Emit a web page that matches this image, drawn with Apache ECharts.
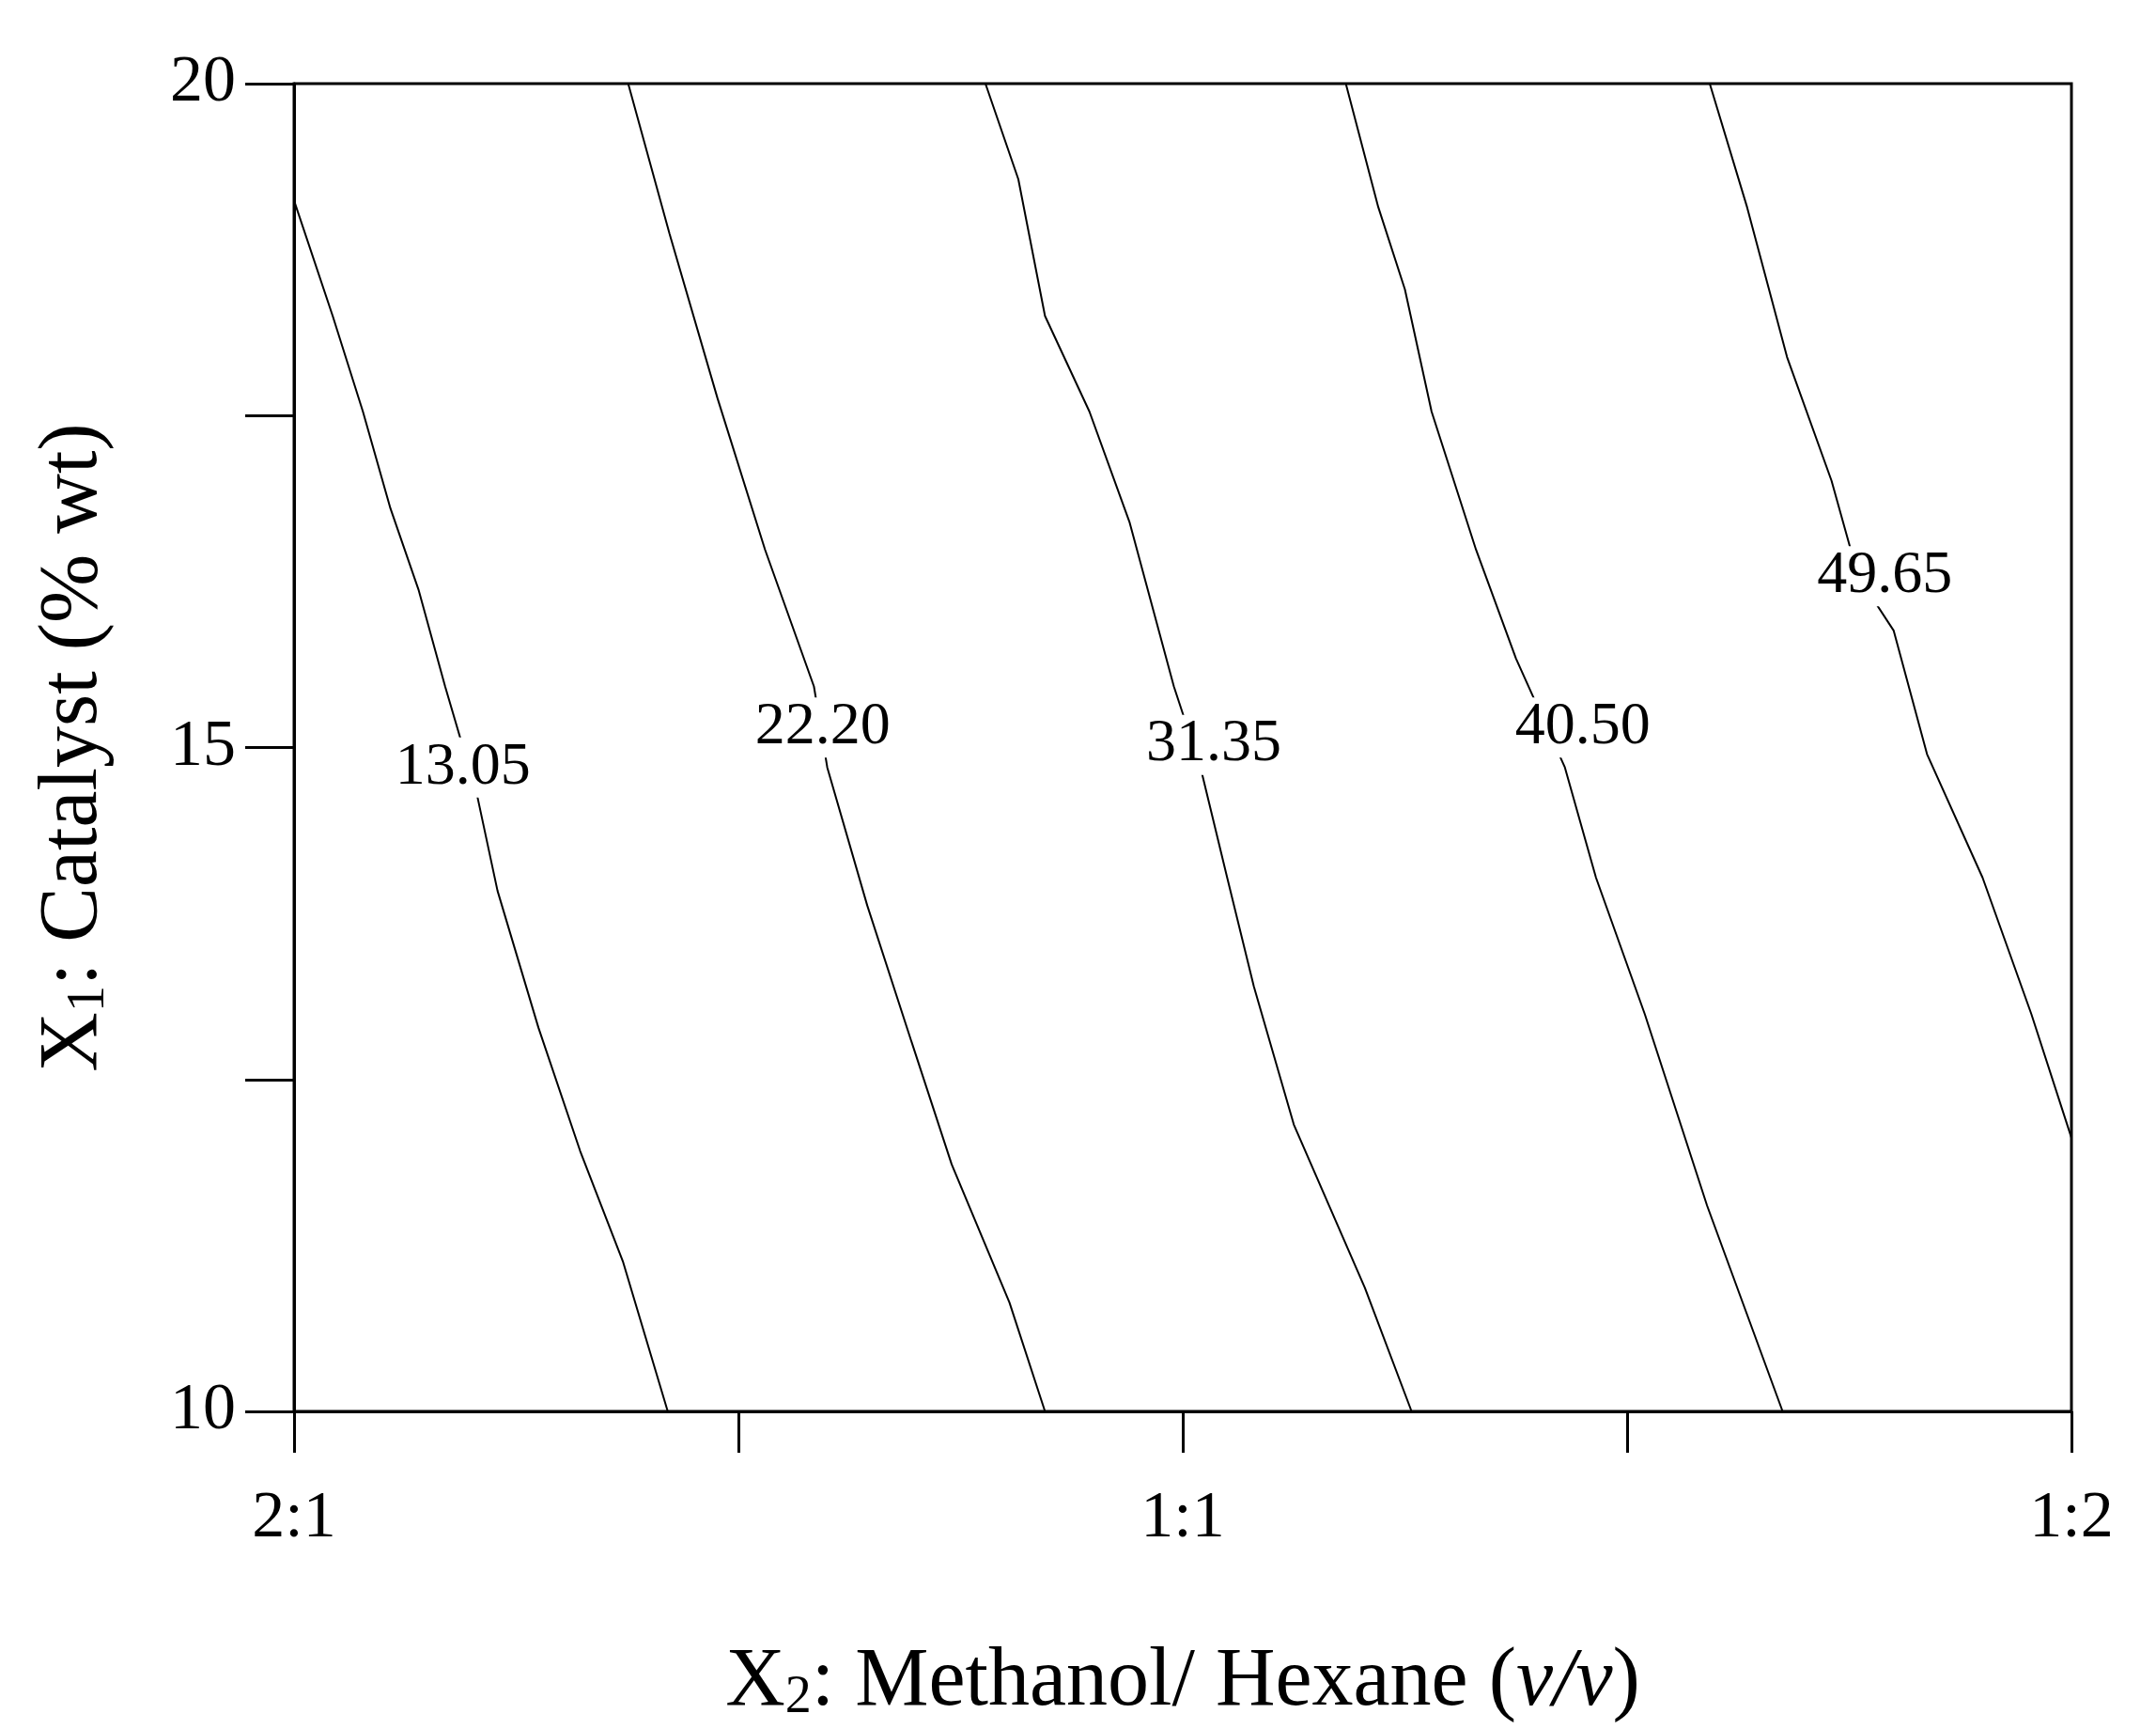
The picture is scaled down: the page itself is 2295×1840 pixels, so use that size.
<!DOCTYPE html>
<html>
<head>
<meta charset="utf-8">
<script src="https://cdn.jsdelivr.net/npm/echarts@6/dist/echarts.min.js"></script>
<style>html,body{margin:0;background:#fff}#chart{width:2295px;height:1840px}</style>
</head>
<body>
<div id="chart"></div>
<script>
// contour lines, [x, y] with x in 0..4 (2:1 .. 1:2) and y = catalyst % wt
const contour1305 = [[0,19.12],[0.087,18.25],[0.155,17.53],[0.217,16.8],[0.28,16.19],[0.34,15.46],[0.412,14.64],[0.458,13.92],[0.55,12.89],[0.644,11.96],[0.74,11.13],[0.841,10]];
const contour2220 = [[0.752,20],[0.845,18.87],[0.953,17.63],[1.06,16.49],[1.17,15.46],[1.2,14.85],[1.29,13.81],[1.39,12.78],[1.48,11.86],[1.61,10.82],[1.69,10]];
const contour3135 = [[1.556,20],[1.63,19.28],[1.69,18.25],[1.79,17.53],[1.88,16.7],[1.98,15.46],[2.04,14.85],[2.1,14.02],[2.16,13.2],[2.25,12.16],[2.41,10.93],[2.515,10]];
const contour4050 = [[2.367,20],[2.44,19.07],[2.5,18.45],[2.56,17.53],[2.66,16.49],[2.75,15.67],[2.86,14.85],[2.93,14.02],[3.04,12.99],[3.18,11.55],[3.35,10]];
const contour4965 = [[3.186,20],[3.27,19.07],[3.36,17.94],[3.46,17.01],[3.52,16.29],[3.6,15.88],[3.675,14.95],[3.8,14.02],[3.91,12.99],[4,12.06]];
const contourLines = [contour1305, contour2220, contour3135, contour4050, contour4965];
const contourLabels = [[0.38,14.85,"13.05"],[1.19,15.15,"22.20"],[2.07,15.02,"31.35"],[2.9,15.15,"40.50"],[3.58,16.29,"49.65"]];
const xTickLabels = {0: "2:1", 2: "1:1", 4: "1:2"};
const yTickLabels = {10: "10", 15: "15", 20: "20"};

const FONT = "Liberation Serif";
const chart = echarts.init(document.getElementById("chart"));
const series = contourLines.map(line => ({
  type: "line", data: line, showSymbol: false, smooth: false,
  lineStyle: {color: "#000", width: 2}, z: 2
}));
series.push({
  type: "scatter", symbolSize: 1, z: 5,
  itemStyle: {color: "#fff", opacity: 1},
  data: contourLabels.map(d => ({value: [d[0], d[1]], name: d[2]})),
  label: {
    show: true, position: "inside", formatter: p => p.name,
    fontFamily: FONT, fontSize: 64, color: "#000", opacity: 1,
    textBorderWidth: 0, backgroundColor: "#fff", padding: [0, 2]
  }
});

chart.setOption({
  animation: false,
  grid: {left: 313, right: 90, top: 89, bottom: 305, show: true, borderColor: "#000", borderWidth: 3},
  xAxis: {
    type: "value", min: 0, max: 4, interval: 1,
    axisLine: {lineStyle: {color: "#000", width: 3}},
    axisTick: {show: true, length: 44, lineStyle: {color: "#000", width: 3}},
    splitLine: {show: false},
    axisLabel: {formatter: v => xTickLabels[v] || "", margin: 80, fontFamily: FONT, fontSize: 70, color: "#000"},
    name: "X{s|2}: Methanol/ Hexane ({i|v/v})",
    nameLocation: "middle", nameGap: 245,
    nameTextStyle: {fontFamily: FONT, fontSize: 88, color: "#000",
      rich: {s: {fontFamily: FONT, fontSize: 56, color: "#000", verticalAlign: "bottom", padding: [30, 0, 0, 0]},
             i: {fontFamily: FONT, fontSize: 88, fontStyle: "italic", color: "#000"}}}
  },
  yAxis: {
    type: "value", min: 10, max: 20, interval: 2.5,
    axisLine: {lineStyle: {color: "#000", width: 3}},
    axisTick: {show: true, length: 52, lineStyle: {color: "#000", width: 3}},
    splitLine: {show: false},
    axisLabel: {formatter: v => yTickLabels[v] || "", margin: 62, fontFamily: FONT, fontSize: 70, color: "#000"},
    name: "X{s|1}: Catalyst (% wt)",
    nameLocation: "middle", nameGap: 190,
    nameTextStyle: {fontFamily: FONT, fontSize: 88, color: "#000",
      rich: {s: {fontFamily: FONT, fontSize: 56, color: "#000", verticalAlign: "bottom", padding: [30, 0, 0, 0]}}}
  },
  series: series
});
</script>
</body>
</html>
